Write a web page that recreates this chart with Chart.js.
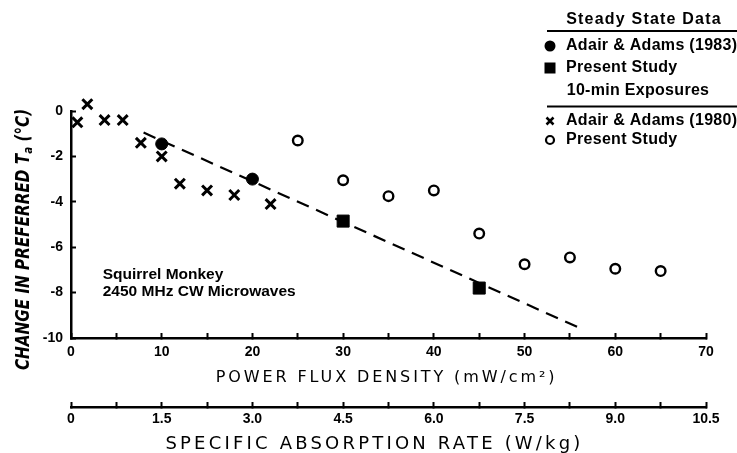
<!DOCTYPE html>
<html><head><meta charset="utf-8">
<script src="https://cdn.jsdelivr.net/npm/chart.js@4/dist/chart.umd.min.js"></script>
<style>html,body{margin:0;padding:0;background:#fff;}#wrap{width:737px;height:453px;position:relative;}</style>
</head><body><div id="wrap"><canvas id="c" width="737" height="453"></canvas></div>
<script>
// ---- data ----
const crossFlux = [0.7, 1.8, 3.7, 5.7, 7.7, 10, 12, 15, 18, 22];          // Adair & Adams (1980), 10-min
const crossDT   = [-0.5, 0.3, -0.4, -0.4, -1.4, -2.0, -3.2, -3.5, -3.7, -4.1];
const dotFlux   = [10, 20];                                                 // Adair & Adams (1983), steady state
const dotDT     = [-1.45, -3.0];
const squareFlux = [30, 45];                                                // Present study, steady state
const squareDT   = [-4.85, -7.8];
const ringFlux  = [25, 30, 35, 40, 45, 50, 55, 60, 65];                     // Present study, 10-min
const ringDT    = [-1.3, -3.05, -3.75, -3.5, -5.4, -6.75, -6.45, -6.95, -7.05];
const fitFlux   = [8, 56.3];                                                // dashed regression line
const fitDT     = [-0.95, -9.6];
const sarTicksLabelled = [0, 1.5, 3.0, 4.5, 6.0, 7.5, 9.0, 10.5];
const yTitle = 'CHANGE IN PREFERRED T';
const ySub = 'a';
const yTitleEnd = ' (°C)';
const xTitle = 'POWER FLUX DENSITY (mW/cm²)';
const x2Title = 'SPECIFIC ABSORPTION RATE (W/kg)';
const noteLines = ['Squirrel Monkey', '2450 MHz CW Microwaves'];
const notePos = {x: 3.5, y: [-7.22, -7.96]};

const pts = (xs, ys) => xs.map((x, i) => ({x, y: ys[i]}));
const tickFont = {family: '"Liberation Sans", Arial, sans-serif', size: 14, weight: 'bold'};

const textPlugin = {
  id: 'texts',
  afterDraw(chart) {
    const ctx = chart.ctx;
    const xs = chart.scales.x, x2 = chart.scales.x2, ys = chart.scales.y;
    ctx.save();
    ctx.fillStyle = '#000'; ctx.strokeStyle = '#000';
    // axis titles
    const midX = (xs.left + xs.right) / 2;
    ctx.textAlign = 'center'; ctx.textBaseline = 'middle';
    ctx.font = '16px "DejaVu Sans", sans-serif';
    ctx.letterSpacing = '2.9px';
    ctx.fillText(xTitle, midX - 2, xs.top + 40);
    ctx.font = '18px "DejaVu Sans", sans-serif';
    ctx.letterSpacing = '3.2px';
    ctx.fillText(x2Title, midX - 14, x2.top + 37);
    ctx.letterSpacing = '0px';
    // y title
    ctx.save();
    ctx.translate(24, (ys.top + ys.bottom) / 2 + 15);
    ctx.rotate(-Math.PI / 2);
    ctx.scale(0.8, 1);
    ctx.font = 'italic bold 19px "DejaVu Sans", sans-serif';
    const fSub = 'italic bold 13px "DejaVu Sans", sans-serif';
    const w1 = ctx.measureText(yTitle).width;
    ctx.font = fSub; const w2 = ctx.measureText(ySub).width;
    ctx.font = 'italic bold 19px "DejaVu Sans", sans-serif';
    const w3 = ctx.measureText(yTitleEnd).width;
    let sx = -(w1 + w2 + w3) / 2;
    ctx.textAlign = 'left';
    ctx.fillText(yTitle, sx, 0); sx += w1;
    ctx.font = fSub; ctx.fillText(ySub, sx, 5); sx += w2;
    ctx.font = 'italic bold 19px "DejaVu Sans", sans-serif';
    ctx.fillText(yTitleEnd, sx, 0);
    ctx.restore();
    // note
    ctx.textAlign = 'left';
    ctx.font = 'bold 15.5px "Liberation Sans", Arial, sans-serif';
    ctx.letterSpacing = '0px';
    noteLines.forEach((t, i) => ctx.fillText(t, xs.getPixelForValue(notePos.x), ys.getPixelForValue(notePos.y[i])));
    // legend
    ctx.font = 'bold 16px "Liberation Sans", Arial, sans-serif';
    ctx.lineWidth = 2;
    ctx.textAlign = 'center';
    ctx.letterSpacing = '1.2px';
    ctx.fillText('Steady State Data', 644, 20);
    ctx.letterSpacing = '0.3px';
    ctx.beginPath(); ctx.moveTo(547, 31); ctx.lineTo(737, 31); ctx.stroke();
    ctx.fillText('10-min Exposures', 638, 91);
    ctx.beginPath(); ctx.moveTo(547, 106.5); ctx.lineTo(737, 106.5); ctx.stroke();
    ctx.textAlign = 'left';
    const lx = 566;
    ctx.fillText('Adair & Adams (1983)', lx, 46);
    ctx.fillText('Present Study', lx, 68);
    ctx.fillText('Adair & Adams (1980)', lx, 121);
    ctx.fillText('Present Study', lx, 140);
    ctx.beginPath(); ctx.arc(550, 46, 5.5, 0, Math.PI * 2); ctx.fill();
    ctx.fillRect(544.5, 62.5, 11, 11);
    ctx.lineWidth = 2.5;
    ctx.beginPath(); ctx.moveTo(546.5, 117.5); ctx.lineTo(553.5, 124.5); ctx.moveTo(553.5, 117.5); ctx.lineTo(546.5, 124.5); ctx.stroke();
    ctx.lineWidth = 2.2;
    ctx.beginPath(); ctx.arc(550, 140, 4, 0, Math.PI * 2); ctx.stroke();
    ctx.restore();
  }
};

const axisCommon = () => ({
  border: {display: true, color: '#000', width: 2.5},
  grid: {display: true, drawOnChartArea: false, drawTicks: true, tickLength: -5, tickWidth: 2, tickColor: '#000', color: '#000'},
});

new Chart(document.getElementById('c'), {
  type: 'scatter',
  data: {datasets: [
    {label: 'Adair & Adams (1983)', data: pts(dotFlux, dotDT), pointStyle: 'circle', pointRadius: 6, backgroundColor: '#000', borderColor: '#000', borderWidth: 1, clip: false},
    {label: 'Present Study (steady)', data: pts(squareFlux, squareDT), pointStyle: 'rect', pointRadius: 8.5, backgroundColor: '#000', borderColor: '#000', borderWidth: 1, clip: false},
    {label: 'Adair & Adams (1980)', data: pts(crossFlux, crossDT), pointStyle: 'crossRot', pointRadius: 7, borderColor: '#000', borderWidth: 3, clip: false},
    {label: 'Present Study (10-min)', data: pts(ringFlux, ringDT), pointStyle: 'circle', pointRadius: 4.8, backgroundColor: '#fff', borderColor: '#000', borderWidth: 2.4, clip: false},
    {label: 'fit', data: pts(fitFlux, fitDT), showLine: true, borderDash: [13, 8], borderColor: '#000', borderWidth: 2.2, pointRadius: 0, clip: false}
  ]},
  options: {
    responsive: false, animation: false, events: [],
    layout: {padding: {top: 111, right: 31, left: 0, bottom: 0}},
    plugins: {legend: {display: false}, tooltip: {enabled: false}},
    scales: {
      x: Object.assign(axisCommon(), {
        type: 'linear', position: 'bottom', min: 0, max: 70, weight: 0,
        afterFit(s) { s.height = 69; },
        ticks: {stepSize: 5, autoSkip: false, maxRotation: 0, padding: 11, color: '#000', font: tickFont,
                callback: v => (v % 10 === 0 ? String(v) : '')},
        title: {display: false}
      }),
      x2: Object.assign(axisCommon(), {
        type: 'linear', position: 'bottom', min: 0, max: 10.5, weight: 1,
        afterFit(s) { s.height = 46; },
        ticks: {stepSize: 0.75, autoSkip: false, maxRotation: 0, padding: 9, color: '#000', font: tickFont,
                callback: v => {
                  const m = sarTicksLabelled.find(t => Math.abs(t - v) < 1e-6);
                  return m === undefined ? '' : (m === 0 ? '0' : m.toFixed(1));
                }},
        title: {display: false}
      }),
      y: Object.assign(axisCommon(), {
        type: 'linear', position: 'left', min: -10, max: 0,
        afterFit(s) { s.width = 71; },
        ticks: {stepSize: 2, autoSkip: false, padding: 13, color: '#000', font: tickFont, callback: v => String(v)},
        title: {display: false}
      })
    }
  },
  plugins: [textPlugin]
});
</script></body></html>
